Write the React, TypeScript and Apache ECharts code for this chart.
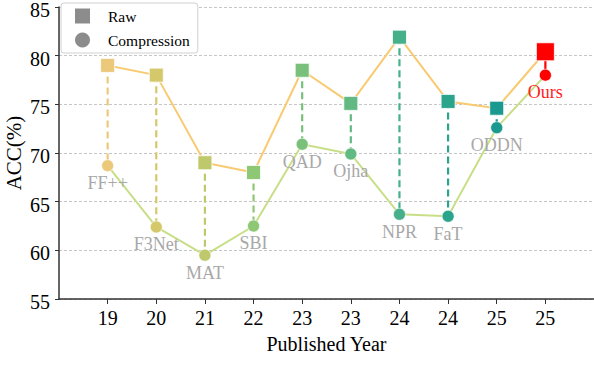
import React, { useEffect, useRef } from "react";
import * as echarts from "echarts";

const methods = ["FF++", "F3Net", "MAT", "SBI", "QAD", "Ojha", "NPR", "FaT", "ODDN", "Ours"];
const years = ["19", "20", "21", "22", "23", "23", "24", "24", "25", "25"];
const rawAcc = [79.0, 78.0, 69.0, 68.0, 78.5, 75.1, 81.9, 75.3, 74.6, 80.4];
const compAcc = [68.7, 62.4, 59.5, 62.5, 70.9, 69.9, 63.7, 63.5, 72.6, 78.0];
const pointColors = ["#ecc97a", "#d4c86b", "#c0c86c", "#8ec874", "#79c07b", "#62ba82", "#46b08a", "#2aa48a", "#1a9a8e", "#ff0000"];
const yTicks = [55, 60, 65, 70, 75, 80, 85];

const FONT = "Liberation Serif";

export default function App() {
  const ref = useRef<HTMLDivElement>(null);
  useEffect(() => {
    if (!ref.current) return;
    const chart = echarts.init(ref.current, undefined, { renderer: "svg" });
    const n = methods.length;
    const cats = ["", ...years.map((_, i) => String(i + 1)), " "];
    const tickLabels = ["", ...years, ""];
    const rawData = rawAcc.map((v, i) => ({
      value: [i + 1, v],
      symbolSize: i === n - 1 ? 18 : 14,
      itemStyle: { color: pointColors[i], borderColor: "#ffffff", borderWidth: 0.8 },
    }));
    const compData = compAcc.map((v, i) => ({
      value: [i + 1, v],
      symbolSize: 12,
      itemStyle: { color: pointColors[i], borderColor: "#ffffff", borderWidth: 0.6 },
      label: {
        show: true,
        formatter: methods[i],
        position: "bottom",
        distance: 2,
        color: i === n - 1 ? "#ff2020" : "#a8a8a8",
        fontFamily: FONT,
        fontSize: 18,
      },
    }));
    const connData = rawAcc.map((v, i) => [i + 1, v, compAcc[i]]);
    chart.setOption({
      animation: false,
      grid: { left: 59, right: 0, top: 7, bottom: 85, outerBoundsMode: "none", containLabel: false },
      legend: {
        left: 61,
        top: 3,
        orient: "vertical",
        itemWidth: 15,
        itemHeight: 15,
        itemGap: 8,
        padding: [5, 8, 5, 14],
        backgroundColor: "#ffffff",
        borderColor: "#d0d0d0",
        borderWidth: 1,
        borderRadius: 3,
        textStyle: { fontFamily: FONT, fontSize: 15.5, color: "#000", padding: [0, 0, 0, 13] },
        data: [
          { name: "Raw", icon: "rect", itemStyle: { color: "#8c8c8c", borderWidth: 0 } },
          { name: "Compression", icon: "circle", itemStyle: { color: "#8c8c8c", borderWidth: 0 } },
        ],
      },
      xAxis: {
        type: "category",
        data: cats,
        boundaryGap: false,
        name: "Published Year",
        nameLocation: "middle",
        nameGap: 35,
        nameMoveOverlap: false,
        nameTextStyle: { fontFamily: FONT, fontSize: 20, color: "#000" },
        axisLine: { lineStyle: { color: "#333", width: 1.5 } },
        axisTick: {
          show: true,
          interval: (i: number) => i > 0 && i < cats.length - 1,
          length: 5,
          lineStyle: { color: "#333" },
        },
        axisLabel: {
          interval: 0,
          formatter: (_v: string, i: number) => tickLabels[i],
          fontFamily: FONT,
          fontSize: 20,
          color: "#000",
          margin: 9,
        },
        splitLine: { show: false },
      },
      yAxis: {
        type: "value",
        min: yTicks[0],
        max: yTicks[yTicks.length - 1],
        interval: 5,
        name: "ACC(%)",
        nameLocation: "middle",
        nameGap: 35,
        nameMoveOverlap: false,
        nameTextStyle: { fontFamily: FONT, fontSize: 21, color: "#000" },
        axisLine: { show: true, lineStyle: { color: "#333", width: 1.5 } },
        axisTick: { show: true, length: 4, lineStyle: { color: "#333" } },
        axisLabel: {
          fontFamily: FONT,
          fontSize: 20,
          lineHeight: 6,
          verticalAlign: "top",
          color: "#000",
          margin: 9,
        },
        splitLine: { show: true, lineStyle: { type: [3, 2], color: "#b8b8b8", width: 0.8 } },
      },
      series: [
        {
          type: "custom",
          name: "conn",
          z: 1,
          silent: true,
          data: connData,
          renderItem: (params: any, api: any) => {
            const i = params.dataIndex;
            const p1 = api.coord([api.value(0), api.value(1)]);
            const p2 = api.coord([api.value(0), api.value(2)]);
            return {
              type: "line",
              shape: { x1: p1[0], y1: p1[1], x2: p2[0], y2: p2[1] },
              style: {
                stroke: pointColors[i],
                lineWidth: 2.2,
                lineDash: i === n - 1 ? null : [7, 4],
              },
            };
          },
        },
        {
          type: "line",
          name: "Raw",
          z: 3,
          data: rawData,
          symbol: "rect",
          lineStyle: { color: "#f8ca72", width: 2 },
          itemStyle: { color: "#8c8c8c" },
        },
        {
          type: "line",
          name: "Compression",
          z: 3,
          data: compData,
          symbol: "circle",
          lineStyle: { color: "#c8df88", width: 2 },
          itemStyle: { color: "#8c8c8c" },
        },
      ],
    });
    return () => chart.dispose();
  }, []);
  return <div ref={ref} style={{ width: 594, height: 384, position: "absolute", left: 0, top: 0 }} />;
}
